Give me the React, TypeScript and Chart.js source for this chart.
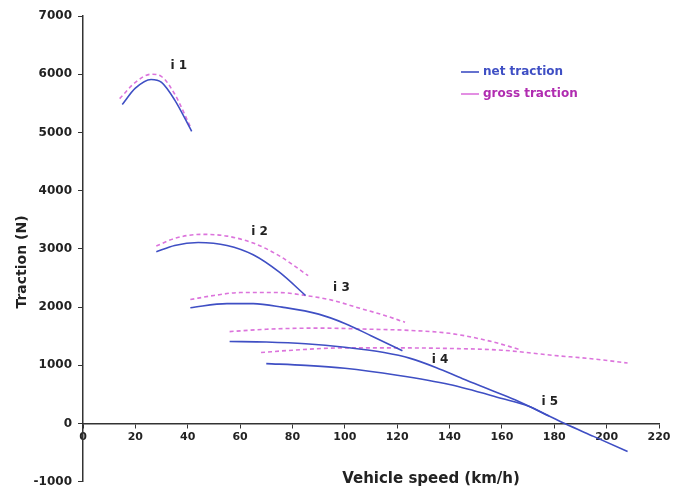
import React, { useEffect, useRef } from "react";
import { Chart, registerables } from "chart.js";

Chart.register(...registerables);

// Vehicle speed (km/h) and traction (N) for each gear
const g1NetV = [15, 20, 26, 30, 35, 41.5];
const g1NetT = [5480, 5760, 5910, 5860, 5560, 5020];
const g1GrossV = [14, 20, 26, 30, 35, 41];
const g1GrossT = [5580, 5860, 6000, 5960, 5660, 5100];

const g2NetV = [28, 35, 44, 55, 65, 75, 85];
const g2NetT = [2950, 3060, 3110, 3060, 2900, 2600, 2200];
const g2GrossV = [28, 35, 45, 55, 65, 75, 86];
const g2GrossT = [3050, 3180, 3250, 3220, 3100, 2880, 2540];

const g3NetV = [41, 55, 65, 76, 90, 100, 110, 122];
const g3NetT = [1990, 2060, 2060, 2000, 1880, 1720, 1510, 1250];
const g3GrossV = [41, 50, 60, 75, 85, 95, 105, 115, 123];
const g3GrossT = [2130, 2200, 2250, 2250, 2200, 2120, 1990, 1860, 1740];

const g4NetV = [56, 70, 85, 100, 115, 125, 135, 145, 155, 165, 178];
const g4NetT = [1410, 1400, 1370, 1310, 1220, 1120, 960, 770, 590, 410, 130];
const g4GrossV = [56, 70, 90, 110, 125, 140, 155, 167];
const g4GrossT = [1580, 1620, 1640, 1620, 1600, 1550, 1420, 1270];

const g5NetV = [70, 85, 100, 120, 140, 160, 170, 178, 184, 195, 208];
const g5NetT = [1030, 1000, 950, 830, 670, 430, 300, 130, 0, -220, -480];
const g5GrossV = [68, 80, 100, 120, 140, 160, 180, 195, 208];
const g5GrossT = [1220, 1260, 1300, 1300, 1290, 1260, 1170, 1110, 1040];

const gearLabels = ["i 1", "i 2", "i 3", "i 4", "i 5"];
const gearLabelV = [36.6, 67.4, 98.7, 136.4, 178.3];
const gearLabelT = [6150, 3300, 2337, 1100, 378];

const legendLabels = ["net traction", "gross traction"];
const xTitle = "Vehicle speed (km/h)";
const yTitle = "Traction (N)";

const NET_COLOR = "#3f4fc4";
const GROSS_COLOR = "#dc74dc";

const toPts = (v: number[], t: number[]) => v.map((x, i) => ({ x, y: t[i] }));

export default function App() {
  const ref = useRef<HTMLCanvasElement | null>(null);

  useEffect(() => {
    document.body.style.margin = "0";
    const canvas = ref.current;
    if (!canvas) return;

    const net = (v: number[], t: number[]) => ({
      data: toPts(v, t),
      borderColor: NET_COLOR,
      borderWidth: 1.6,
      pointRadius: 0,
      fill: false,
      cubicInterpolationMode: "monotone" as const,
    });
    const gross = (v: number[], t: number[]) => ({
      data: toPts(v, t),
      borderColor: GROSS_COLOR,
      borderWidth: 1.6,
      borderDash: [4, 3],
      pointRadius: 0,
      fill: false,
      cubicInterpolationMode: "monotone" as const,
    });

    const textPlugin = {
      id: "texts",
      afterDraw(chart: any) {
        const ctx = chart.ctx;
        const xs = chart.scales.x;
        const ys = chart.scales.y;
        ctx.save();
        ctx.fillStyle = "#222";
        ctx.textAlign = "center";
        ctx.textBaseline = "middle";
        // gear labels
        ctx.font = "bold 12px 'DejaVu Sans'";
        gearLabels.forEach((l, i) => {
          ctx.fillText(l, xs.getPixelForValue(gearLabelV[i]), ys.getPixelForValue(gearLabelT[i]));
        });
        // axis titles
        ctx.font = "bold 15px 'DejaVu Sans'";
        ctx.fillText(xTitle, 431, 479);
        ctx.save();
        ctx.translate(22, 262);
        ctx.rotate(-Math.PI / 2);
        ctx.font = "bold 14px 'DejaVu Sans'";
        ctx.fillText(yTitle, 0, 0);
        ctx.restore();
        // legend
        ctx.textAlign = "left";
        ctx.font = "bold 12px 'DejaVu Sans'";
        const cols = [NET_COLOR, "#b02cb0"];
        const lineCols = [NET_COLOR, GROSS_COLOR];
        const ys0 = [72, 94];
        legendLabels.forEach((l, i) => {
          ctx.strokeStyle = lineCols[i];
          ctx.lineWidth = 1.6;
          ctx.beginPath();
          ctx.moveTo(461, ys0[i]);
          ctx.lineTo(479, ys0[i]);
          ctx.stroke();
          ctx.fillStyle = cols[i];
          ctx.fillText(l, 483, ys0[i]);
        });
        ctx.restore();
      },
    };

    const chart = new Chart(canvas, {
      type: "line",
      data: {
        datasets: [
          net(g1NetV, g1NetT),
          gross(g1GrossV, g1GrossT),
          net(g2NetV, g2NetT),
          gross(g2GrossV, g2GrossT),
          net(g3NetV, g3NetT),
          gross(g3GrossV, g3GrossT),
          net(g4NetV, g4NetT),
          gross(g4GrossV, g4GrossT),
          net(g5NetV, g5NetT),
          gross(g5GrossV, g5GrossT),
        ],
      },
      options: {
        animation: false,
        responsive: false,
        maintainAspectRatio: false,
        layout: { padding: { left: 0, top: 16, right: 16, bottom: 12 } },
        plugins: {
          legend: { display: false },
          tooltip: { enabled: false },
        },
        scales: {
          x: {
            type: "linear",
            position: { y: 0 } as any,
            min: 0,
            max: 220,
            ticks: {
              stepSize: 20,
              color: "#222",
              font: { family: "'DejaVu Sans'", size: 11, weight: "bold" },
              padding: 3,
              maxRotation: 0,
              callback: (v: any) => String(v),
            },
            grid: {
              drawOnChartArea: false,
              drawTicks: true,
              tickLength: 4,
              color: "#333",
            },
            border: { display: true, color: "#333", width: 1.5 },
          },
          y: {
            type: "linear",
            min: -1000,
            max: 7000,
            ticks: {
              stepSize: 1000,
              color: "#222",
              font: { family: "'DejaVu Sans'", size: 12, weight: "bold" },
              padding: 6,
              callback: (v: any) => String(v),
            },
            grid: {
              drawOnChartArea: false,
              drawTicks: true,
              tickLength: 5,
              color: "#333",
            },
            border: { display: true, color: "#333", width: 1.5 },
            afterFit: (scale: any) => {
              scale.width = 83;
            },
          },
        },
      },
      plugins: [textPlugin],
    });

    return () => chart.destroy();
  }, []);

  return <canvas ref={ref} width={675} height={495} style={{ display: "block" }} />;
}
